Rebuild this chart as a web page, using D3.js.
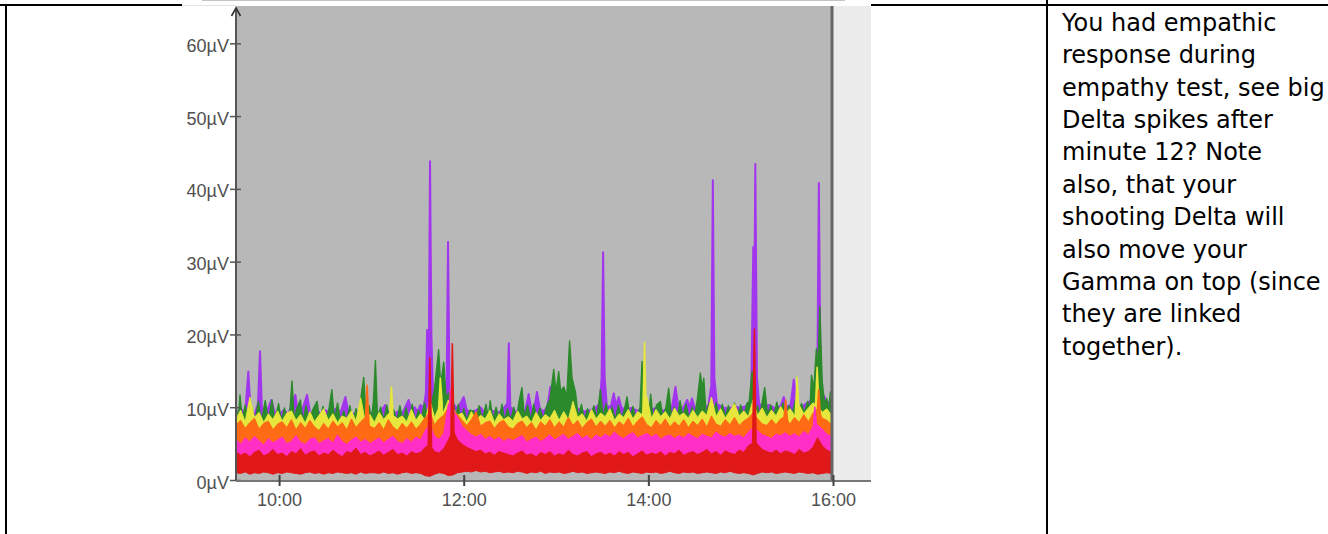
<!DOCTYPE html>
<html>
<head>
<meta charset="utf-8">
<script src="https://cdnjs.cloudflare.com/ajax/libs/d3/7.8.5/d3.min.js"></script>
<style>
body { margin: 0; background: #fff; }
</style>
</head>
<body>
<svg id="chart" width="1328" height="534"></svg>
<script>

// band samples every 3 minutes, minutes after 9:30
var bandMinutes = d3.range(2, 390, 3).concat([390]);

var redLow = [1.0, 0.9, 1.1, 0.8, 1.0, 0.9, 1.1, 1.0, 0.8, 1.0,
 0.9, 1.1, 1.0, 0.9, 0.8, 1.0, 1.1, 0.9, 1.0, 0.8,
 1.0, 0.9, 1.1, 1.0, 0.9, 1.0, 0.8, 1.1, 0.9, 1.0,
 1.0, 0.9, 1.1, 0.9, 1.0, 0.8, 1.0, 1.1, 0.9, 1.0,
 0.9, 0.6, 0.5, 0.8, 1.0, 0.9, 0.6, 0.7, 1.0, 1.1,
 1.2, 1.1, 1.3, 1.1, 1.2, 1.0, 1.1, 1.2, 1.0, 1.1,
 1.0, 1.2, 1.1, 0.9, 1.1, 1.0, 1.2, 0.9, 1.1, 1.0,
 1.1, 0.9, 1.0, 1.2, 1.0, 1.1, 0.9, 1.0, 1.1, 1.0,
 0.9, 1.1, 1.0, 1.2, 1.0, 0.9, 1.1, 1.0, 0.9, 1.1,
 1.0, 1.1, 0.9, 1.0, 1.2, 1.0, 0.9, 1.1, 1.0, 1.1,
 0.9, 1.0, 1.1, 1.0, 0.9, 1.1, 1.0, 1.2, 1.0, 0.9,
 1.0, 0.9, 0.7, 0.9, 1.1, 1.0, 1.1, 0.9, 1.0, 1.1,
 1.0, 0.9, 1.1, 1.0, 0.9, 1.0, 0.8, 0.9, 1.0, 0.9,
 0];

var redHigh = [3.9, 3.4, 3.7, 3.2, 3.8, 4.1, 3.3, 3.6, 4.2, 3.5,
 3.7, 3.2, 3.9, 3.6, 4.3, 3.4, 3.8, 4.0, 3.3, 3.7,
 3.5, 4.1, 3.6, 3.2, 3.9, 3.7, 4.4, 3.5, 3.8, 3.3,
 3.6, 4.0, 3.4, 3.8, 4.2, 3.5, 3.7, 3.3, 3.9, 3.6,
 3.8, 4.5, 4.8, 3.9, 3.7, 4.3, 5.5, 6.8, 5.5, 4.9,
 4.5, 4.2, 3.9, 4.1, 3.6, 3.8, 3.4, 3.9, 3.7, 3.5,
 3.3, 3.7, 4.0, 3.4, 3.6, 3.2, 3.8, 3.5, 3.9, 3.3,
 3.6, 3.4, 4.1, 3.5, 3.3, 3.7, 3.9, 3.2, 3.6, 3.8,
 3.4, 3.7, 3.3, 3.9, 3.5, 3.8, 3.2, 3.6, 4.0, 3.4,
 3.7, 3.5, 3.9, 3.3, 3.8, 3.6, 4.1, 3.4, 3.7, 3.9,
 3.5, 3.8, 4.2, 3.6, 3.9, 3.4, 4.0, 3.7, 3.5, 4.1,
 3.8, 4.7, 5.1, 4.9, 4.2, 3.9, 3.7, 4.1, 3.6, 4.0,
 3.8, 3.5, 4.2, 3.7, 3.9, 4.5, 5.8, 4.7, 4.1, 3.8,
 0];

var pinkHigh = [5.6, 4.9, 5.8, 5.2, 6.0, 5.4, 4.8, 5.7, 5.1, 5.5,
 5.9, 5.0, 5.3, 6.1, 5.2, 4.9, 5.6, 5.8, 5.0, 5.4,
 5.7, 5.1, 6.2, 5.3, 4.9, 5.5, 5.9, 5.2, 5.6, 5.0,
 5.4, 5.8, 5.1, 5.6, 6.0, 5.3, 5.0, 5.7, 5.2, 5.9,
 5.5, 6.8, 7.5, 6.0, 5.6, 6.4, 10.5, 9.6, 8.6, 7.4,
 6.8, 6.2, 5.9, 6.3, 5.6, 6.0, 5.5, 5.9, 5.3, 5.7,
 5.4, 5.8, 6.1, 5.2, 5.6, 5.9, 5.3, 5.7, 6.2, 5.5,
 5.9, 6.3, 5.6, 6.0, 6.4, 5.7, 6.1, 5.5, 6.2, 5.8,
 6.3, 5.9, 6.6, 6.0, 5.7, 6.2, 6.5, 5.8, 6.1, 6.4,
 5.9, 6.3, 5.6, 6.0, 6.2, 5.7, 6.1, 5.8, 6.4, 6.0,
 5.7, 6.3, 6.0, 5.8, 6.6, 6.1, 5.9, 6.4, 6.0, 6.2,
 5.8, 6.6, 7.2, 6.8, 6.2, 6.0, 5.7, 6.3, 6.1, 6.5,
 6.0, 6.4, 5.9, 6.7, 6.2, 7.4, 7.6, 7.0, 6.3, 6.0,
 0];

var orangeHigh = [7.6, 8.2, 7.1, 7.9, 8.5, 7.0, 7.8, 8.1, 6.9, 7.7,
 8.0, 7.2, 8.3, 6.9, 7.9, 7.1, 8.2, 7.3, 6.8, 7.8,
 7.0, 8.1, 7.3, 7.9, 6.9, 8.4, 7.2, 8.0, 8.6, 7.4,
 7.1, 7.9, 6.9, 8.3, 7.3, 6.8, 7.8, 7.1, 8.0, 7.0,
 7.7, 8.6, 9.4, 7.6, 8.4, 8.9, 10.0, 9.6, 9.0, 8.2,
 7.5, 8.3, 9.4, 7.4, 7.9, 8.1, 7.1, 7.9, 8.2, 7.3,
 7.0, 7.8, 8.1, 7.2, 7.9, 6.9, 8.0, 7.4, 8.3, 7.2,
 8.0, 7.3, 8.6, 7.5, 8.2, 7.1, 7.9, 8.4, 7.3, 8.1,
 7.4, 8.2, 7.2, 8.0, 7.5, 8.5, 7.3, 8.1, 8.7, 7.6,
 7.2, 8.2, 7.5, 8.4, 7.3, 8.0, 7.4, 8.3, 7.2, 8.1,
 7.5, 8.4, 7.3, 8.8, 7.7, 7.4, 8.3, 7.6, 8.6, 7.5,
 8.1, 8.5, 9.2, 8.4, 7.7, 7.5, 8.3, 7.6, 8.4, 8.7,
 7.7, 8.6, 7.9, 9.0, 8.0, 9.2, 9.8, 8.5, 8.2, 7.6,
 0];

var yellowHigh = [8.4, 9.6, 8.0, 11.4, 8.6, 9.3, 7.9, 9.1, 8.3, 9.5,
 8.1, 9.2, 9.5, 8.2, 9.0, 7.8, 9.4, 8.0, 8.9, 9.8,
 8.2, 9.1, 7.9, 8.8, 8.5, 9.5, 8.1, 11.3, 8.0, 9.0,
 7.9, 9.3, 8.3, 9.1, 8.9, 8.4, 8.8, 8.0, 9.7, 8.2,
 9.1, 8.1, 11.0, 8.6, 10.0, 9.4, 11.0, 9.8, 8.9, 9.2,
 8.0, 9.4, 8.2, 8.9, 8.4, 9.6, 7.9, 9.1, 8.3, 8.7,
 8.1, 9.5, 8.4, 8.8, 7.9, 9.3, 8.2, 9.0, 8.5, 9.6,
 8.2, 9.4, 8.3, 10.8, 8.6, 9.1, 8.1, 9.7, 8.4, 9.2,
 8.7, 9.8, 8.2, 9.1, 8.6, 9.7, 8.4, 9.4, 9.0, 11.5,
 8.5, 9.7, 8.7, 9.4, 8.4, 9.9, 8.8, 9.2, 8.5, 9.6,
 8.6, 9.5, 8.9, 11.4, 8.7, 9.8, 8.5, 9.5, 10.5, 8.8,
 9.5, 8.7, 11.0, 8.9, 9.9, 8.6, 9.6, 8.8, 10.1, 9.0,
 9.8, 8.9, 10.3, 9.1, 9.9, 10.6, 10.2, 9.3, 9.8, 8.9,
 0];

// narrow bursts standing out of each band, [minute, µV]
var redBursts = [[[126.9, 4.2], [128, 16.8], [129.1, 4.4]],
 [[141.6, 5.2], [142.6, 18.7], [143.7, 6.0]],
 [[337.8, 4.5], [338.9, 20.7], [340, 4.8]]];
var pinkBursts = [[[127, 7.0], [128, 9.8], [129, 7.0]],
 [[140.2, 7.0], [141.3, 12.4], [142.4, 9.5]],
 [[377, 6.5], [378.2, 10.0], [379.4, 7.0]]];
var orangeBursts = [[[86, 7.6], [87.2, 13.0], [88.4, 7.8]],
 [[140.5, 9.0], [141.8, 12.0], [143, 9.5]],
 [[358, 8.0], [359.2, 11.0], [360.4, 8.2]],
 [[379.5, 8.5], [380.7, 12.4], [381.9, 8.6]]];
var yellowBursts = [[[102, 9.4], [103, 12.8], [104, 9.2]],
 [[133.6, 9.5], [134.8, 14.0], [136, 10.5]],
 [[266.4, 9.0], [267.5, 18.9], [268.6, 9.2]],
 [[365.6, 9.5], [366.7, 14.1], [367.8, 9.6]],
 [[378.6, 10.0], [379.7, 15.5], [380.8, 10.5]]];

// green (gamma) trace, [minute, µV]
var greenTrace = [[2,10.4],[3.5,8.0],[4.6,11.7],[6,8.2],[8,10.3],[10,8.0],[12.5,9.6],[14.5,8.1],
 [16.5,10.8],[18.5,8.0],[21,10.9],[23,8.1],[25.4,11.0],[27,8.2],[29.7,10.5],[31.5,8.0],[33.5,9.9],
 [35.5,8.2],[37,9.4],[38.4,13.6],[39.8,8.3],[41.5,9.8],[43.8,11.0],[45.5,8.0],[47.5,10.2],
 [49.5,8.1],[52,9.7],[54.7,10.8],[56.5,8.0],[58.5,10.1],[60.5,8.2],[62.5,9.9],[64.3,12.4],
 [66,8.3],[68,10.6],[70,8.0],[72,9.5],[74,8.1],[76,10.2],[78,8.0],[80,9.8],[81.5,8.2],[83,11.0],
 [85,14.1],[86.5,9.0],[88.5,10.2],[90,8.4],[91.3,10.8],[92.6,16.4],[94,8.6],[96,10.0],[98,8.1],
 [100,10.3],[102,8.2],[104.5,9.7],[106.5,8.0],[108.5,10.2],[110.5,8.1],[112.5,9.9],[114.5,8.2],
 [116.5,10.4],[118.5,8.0],[120.5,9.6],[122.5,8.3],[124.5,10.6],[126,9.0],[129,10.5],[131,12.5],
 [133.7,17.9],[135,13.0],[137,16.2],[138.5,11.5],[141,12.0],[143,11.0],[144.8,8.6],[146.5,10.4],
 [148,8.3],[150,9.8],[152,8.2],[154,9.6],[156.3,9.5],[158,8.1],[160,10.2],[162,8.3],[164.5,10.4],
 [166,8.5],[167.2,10.9],[169,8.2],[171,10.0],[173,8.4],[174.9,10.4],[176.5,8.1],[178.5,9.8],
 [180.5,8.2],[182.5,10.0],[184.2,8.3],[185.8,10.6],[187.8,12.7],[189.5,8.6],[191.5,10.3],
 [193.5,8.2],[195.5,10.4],[197.5,8.4],[199.5,9.9],[201.5,8.3],[204.2,10.3],[206,11.0],[208.5,15.2],
 [210,12.0],[211.7,14.9],[213,12.2],[215,12.8],[217,11.5],[218.8,19.1],[220.4,14.0],[222.6,12.1],
 [224.5,8.6],[226.5,10.4],[228.5,8.3],[230.5,9.8],[232.5,8.2],[234.5,10.2],[236.5,8.4],
 [238.8,12.4],[240.5,8.6],[242.5,10.5],[244.5,8.3],[246.5,10.0],[248.5,8.2],[250.5,10.3],
 [252.5,8.4],[254.5,9.8],[256.2,11.4],[258,8.5],[260,10.1],[262,8.3],[264.6,10.0],[265.9,16.3],
 [267.3,9.0],[269,10.4],[270.2,8.6],[271.5,11.8],[273,8.5],[275.3,10.3],[277.8,10.8],[279.5,8.6],
 [281.5,10.1],[283.2,12.6],[285,8.7],[287,10.0],[288.8,8.5],[290.6,10.9],[292.5,8.6],[294.5,10.4],
 [296.5,8.4],[298.5,10.0],[300,8.8],[301.8,11.0],[303.8,14.7],[305,12.5],[306,14.0],[307.5,9.0],
 [309.5,10.6],[311.5,8.8],[314,10.6],[316,8.6],[318,10.4],[320,8.7],[322,10.2],[324,8.6],
 [326,10.6],[328,8.8],[330,10.3],[332,8.7],[334,10.5],[335.5,10.8],[337.4,14.9],[339,9.4],
 [341,10.2],[342.5,8.8],[343.7,10.4],[345.6,12.7],[347.5,8.9],[349.5,10.3],[351.5,8.8],
 [353.5,10.7],[355.5,8.9],[357.5,10.6],[359.5,9.0],[361.5,10.2],[363.5,9.1],[365.5,10.9],
 [367.5,9.0],[369.5,10.5],[371.5,9.2],[373.5,10.8],[375,9.6],[376,14.4],[377.5,12.5],[379.2,18.0],
 [380.2,15.0],[381.4,23.8],[383,13.5],[384.5,10.5],[386,11.2],[387.2,9.5],[388.3,12.1],
 [389.2,10.8],[390,0]];

// purple (delta) trace, [minute, µV]
var deltaTrace = [[2,9.0],[5,9.8],[8,9.2],[10,14.9],[11.5,9.5],[14,9.0],[16.3,10.5],[17.6,17.7],
 [18.8,10.0],[21,9.2],[23,9.9],[25,11.0],[27,9.4],[30,9.0],[33,9.6],[36,9.1],[40.6,11.7],
 [42,9.3],[45,9.6],[48.2,11.7],[50,9.4],[53,9.0],[55,9.5],[57.9,8.9],[60,9.6],[63,9.2],
 [67,9.8],[70,9.3],[73.1,11.4],[75,9.4],[78,9.0],[81,9.5],[84,9.2],[88,9.0],[92,9.4],[95,9.2],
 [99,10.3],[101,9.3],[104,9.0],[107,9.4],[110,9.1],[114.2,11.0],[116,9.5],[118.1,10.0],
 [120,9.4],[121.8,10.3],[124,10.0],[125.4,12.0],[126.2,20.6],[127.2,14.0],[128.1,43.8],
 [129,20.0],[130,12.0],[132,10.5],[135,10.0],[138.8,11.0],[139.8,32.7],[140.8,12.0],[143,10.5],
 [146,9.8],[150,11.4],[152,9.6],[155,9.3],[158,9.6],[160.8,10.0],[163,9.4],[166,9.2],[169,9.5],
 [172,9.2],[175,9.6],[178.3,10.5],[179.3,18.8],[180.3,10.0],[184,9.4],[187,9.2],[190,9.6],
 [192.2,11.8],[194,9.6],[196,10.0],[197.6,12.1],[199.5,9.8],[202,9.4],[204.5,10.2],[206.3,12.8],
 [208,10.0],[212,9.6],[216,9.8],[220,9.5],[224,9.8],[228,9.4],[232.3,9.6],[235,9.8],[238.5,10.5],
 [239.6,14.0],[240.6,31.3],[241.6,14.0],[243,10.2],[245.5,10.0],[247.5,11.9],[249,10.2],
 [250.7,11.4],[252.5,10.0],[255,9.6],[259,9.9],[263,9.5],[267,9.8],[271,9.6],[275,9.9],[279,9.5],
 [283,9.8],[285.5,10.2],[287.6,12.8],[289.5,10.0],[292,9.7],[295.2,11.0],[296.8,10.0],
 [298.4,11.2],[300,10.0],[303,9.8],[306,10.0],[309,10.2],[310.9,13.0],[311.9,41.2],[312.9,14.0],
 [314.5,10.5],[318,10.0],[322,9.8],[326,10.1],[330,9.9],[334,10.2],[336.8,11.0],[338.2,32.0],
 [338.9,25.0],[339.5,43.4],[340.6,14.0],[342,10.5],[345,10.0],[348,10.3],[350.4,10.1],
 [352.5,9.8],[356,10.2],[358,11.4],[360,10.0],[362.5,10.4],[364.5,13.8],[366.5,10.2],[369,10.0],
 [372,10.4],[375,10.8],[378,11.5],[379.8,14.0],[380.8,40.8],[381.8,16.0],[383,12.0],[386,10.8],
 [389,10.5],[390,0]];

var yTicks = [0, 10, 20, 30, 40, 50, 60];
var xTicks = ["10:00", "12:00", "14:00", "16:00"];

var noteLines = ["You had empathic", "response during", "empathy test, see big",
 "Delta spikes after", "minute 12? Note", "also, that your", "shooting Delta will",
 "also move your", "Gamma on top (since", "they are linked", "together)."];

var svg = d3.select("#chart");

// table borders
svg.append("rect").attr("x", 0).attr("y", 4).attr("width", 1328).attr("height", 2).attr("fill", "#000");
svg.append("rect").attr("x", 5).attr("y", 4).attr("width", 2).attr("height", 530).attr("fill", "#000");
svg.append("rect").attr("x", 1046).attr("y", 0).attr("width", 2).attr("height", 534).attr("fill", "#000");

// pasted screenshot covers the top border
svg.append("rect").attr("x", 182).attr("y", 2).attr("width", 689).attr("height", 532).attr("fill", "#fff");
svg.append("line").attr("x1", 202).attr("x2", 845).attr("y1", 0.5).attr("y2", 0.5)
  .attr("stroke", "#c4c4c4");
svg.append("line").attr("x1", 182).attr("x2", 236).attr("y1", 5.5).attr("y2", 5.5)
  .attr("stroke", "#e4e4e4");

var plotLeft = 236, plotTop = 6, plotBottom = 481, panelRight = 871;

var parseTime = d3.timeParse("%H:%M");
var dayStart = parseTime("09:30");
function clock(m) { return new Date(dayStart.getTime() + m * 60000); }

var x = d3.scaleTime()
  .domain([clock(2), clock(390)])
  .range([plotLeft, 833]);

var y = d3.scaleLinear()
  .domain([0, 60])
  .range([480, 43.3]);

var dataRight = x(clock(390));

// backgrounds
svg.append("rect").attr("x", dataRight).attr("y", plotTop)
  .attr("width", panelRight - dataRight).attr("height", plotBottom - plotTop).attr("fill", "#ececec");
svg.append("rect").attr("x", plotLeft).attr("y", plotTop)
  .attr("width", dataRight - plotLeft).attr("height", plotBottom - plotTop).attr("fill", "#b8b8b8");

svg.append("clipPath").attr("id", "plotclip")
  .append("rect").attr("x", plotLeft).attr("y", plotTop)
  .attr("width", dataRight - plotLeft).attr("height", plotBottom - plotTop);

var traces = svg.append("g").attr("clip-path", "url(#plotclip)");

var hiddenBase = 2;

var pairArea = d3.area()
  .x(function(d) { return x(clock(d[0])); })
  .y0(y(hiddenBase))
  .y1(function(d) { return y(d[1]); });

function drawPairs(list, color, width) {
  traces.append("path").datum(list)
    .attr("d", pairArea)
    .attr("fill", color).attr("stroke", color)
    .attr("stroke-width", width).attr("stroke-linejoin", "round");
}

// sparse traces (furthest back)
drawPairs(deltaTrace, "#a236ee", 2);
drawPairs(greenTrace, "#2b8a2b", 1.4);

// dense bands, back to front, each followed by its bursts
var bands = [
  {values: yellowHigh, color: "#e6e63c", bursts: yellowBursts},
  {values: orangeHigh, color: "#ff6a14", bursts: orangeBursts},
  {values: pinkHigh, color: "#ff2fc6", bursts: pinkBursts},
  {values: redHigh, color: "#e01818", bursts: redBursts, low: redLow}
];

bands.forEach(function(b) {
  var area = d3.area()
    .x(function(d, i) { return x(clock(bandMinutes[i])); })
    .y0(function(d, i) { return b.low ? y(b.low[i]) : y(hiddenBase); })
    .y1(function(d) { return y(d); });
  traces.append("path").datum(b.values)
    .attr("d", area)
    .attr("fill", b.color).attr("stroke", b.color)
    .attr("stroke-width", 1).attr("stroke-linejoin", "round");
  b.bursts.forEach(function(s) { drawPairs(s, b.color, 1.6); });
});

// end-of-data marker
svg.append("line").attr("x1", dataRight - 1).attr("x2", dataRight - 1)
  .attr("y1", plotTop).attr("y2", plotBottom)
  .attr("stroke", "#666").attr("stroke-width", 3);

// y axis
var yAxis = svg.append("g")
  .attr("transform", "translate(" + plotLeft + ",0)")
  .call(d3.axisLeft(y).tickValues(yTicks).tickSizeInner(6).tickSizeOuter(0).tickPadding(1)
    .tickFormat(function(d) { return d + "µV"; }));
yAxis.select(".domain").remove();
yAxis.selectAll(".tick line").attr("x1", 5).attr("stroke", "#555").attr("stroke-width", 1.5);
yAxis.selectAll(".tick text")
  .attr("font-family", "'Liberation Sans', Arial, sans-serif")
  .attr("font-size", "18px").attr("fill", "#505050").attr("dy", "0.45em");

svg.append("line").attr("x1", plotLeft).attr("x2", plotLeft)
  .attr("y1", plotBottom).attr("y2", 8)
  .attr("stroke", "#555").attr("stroke-width", 2);
svg.append("path").attr("d", "M" + (plotLeft - 4.5) + ",16L" + plotLeft + ",8L" + (plotLeft + 4.5) + ",16")
  .attr("fill", "none").attr("stroke", "#333").attr("stroke-width", 1.6);

// x axis
svg.append("line").attr("x1", plotLeft).attr("x2", panelRight)
  .attr("y1", plotBottom).attr("y2", plotBottom)
  .attr("stroke", "#777").attr("stroke-width", 2);

var xAxis = svg.append("g")
  .attr("transform", "translate(0," + plotBottom + ")")
  .call(d3.axisBottom(x).tickValues(xTicks.map(function(s) { return parseTime(s); }))
    .tickFormat(d3.timeFormat("%H:%M")).tickSizeInner(5).tickSizeOuter(0).tickPadding(7));
xAxis.select(".domain").remove();
xAxis.selectAll(".tick line").attr("y1", -6).attr("stroke", "#444").attr("stroke-width", 2);
xAxis.selectAll(".tick text")
  .attr("font-family", "'Liberation Sans', Arial, sans-serif")
  .attr("font-size", "18px").attr("fill", "#505050");

// note in the right cell
svg.append("g").selectAll("text")
  .data(noteLines)
  .enter()
  .append("text")
  .attr("x", 1062)
  .attr("y", function(d, i) { return 30.7 + i * 32.4; })
  .attr("font-family", "'DejaVu Sans', Verdana, sans-serif")
  .attr("font-size", "24px")
  .attr("fill", "#000")
  .text(function(d) { return d; });

</script>
</body>
</html>
